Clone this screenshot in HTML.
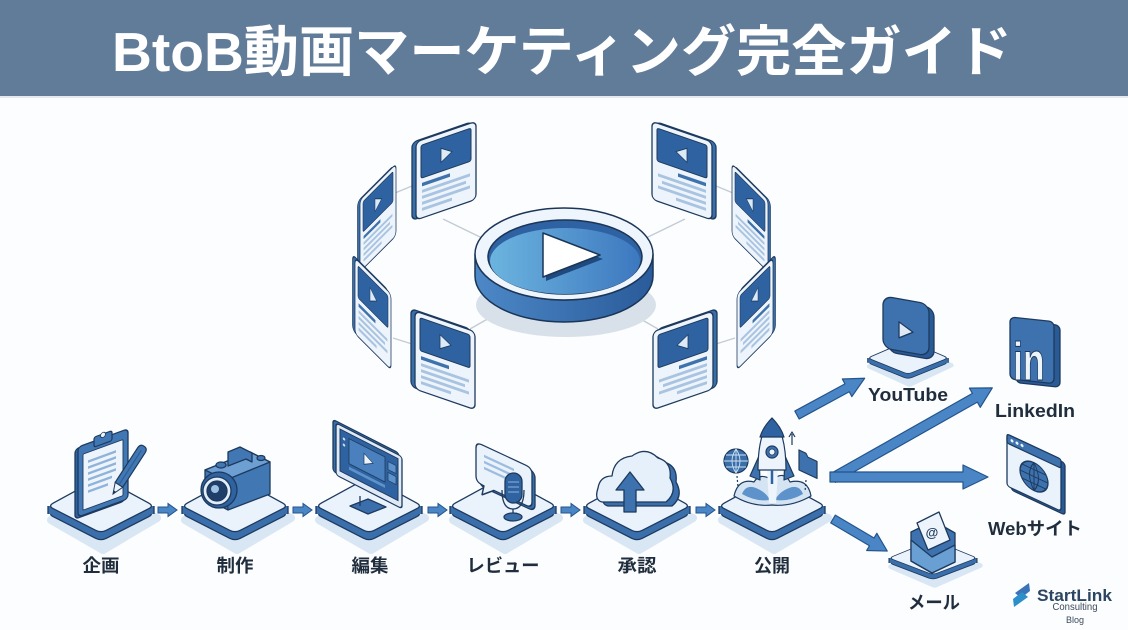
<!DOCTYPE html>
<html><head><meta charset="utf-8"><style>
html,body{margin:0;padding:0;background:#fcfdfe;}
svg{display:block;}
text{font-family:"Liberation Sans","Noto Sans CJK JP",sans-serif;}
</style></head><body>
<svg width="1128" height="630" viewBox="0 0 1128 630" xmlns="http://www.w3.org/2000/svg">
<defs>
<linearGradient id="gIn" x1="0" x2="1" y1="0" y2="0"><stop offset="0" stop-color="#6cb4df"/><stop offset="1" stop-color="#3d78bf"/></linearGradient>
<linearGradient id="gSide" x1="0" x2="1" y1="0" y2="0"><stop offset="0" stop-color="#4d88c7"/><stop offset="1" stop-color="#2a5b9a"/></linearGradient>
<g id="card">
 <rect x="-4" y="-1" width="60" height="78" rx="5" fill="#3a6ea9" stroke="#1d3a5e" stroke-width="1.3"/>
 <rect x="0" y="0" width="60" height="78" rx="5" fill="#eef4fb" stroke="#1d3a5e" stroke-width="1.3"/>
 <rect x="5" y="5" width="50" height="33" rx="2" fill="#2f62a0" stroke="#1d3a5e"/>
 <path d="M25,15 L25,29 L36,22 Z" fill="#dce9f6" stroke="#1d3a5e" stroke-width="0.8"/>
 <rect x="6" y="43" width="28" height="3.5" fill="#3e72ad"/>
 <rect x="6" y="50" width="48" height="3" fill="#a9c4e0"/>
 <rect x="6" y="56" width="44" height="3" fill="#a9c4e0"/>
 <rect x="6" y="62" width="48" height="3" fill="#a9c4e0"/>
 <rect x="6" y="68" width="30" height="3" fill="#a9c4e0"/>
</g>
<g id="leftside">
 <path d="M395,193 L412,186 M443,219 L482,238 M393,338 L412,344 M470,329 L498,313" stroke="#c3cbd4" stroke-width="1.4" fill="none"/>
 <use href="#card" transform="translate(360,200) skewY(-45) scale(0.6,0.92)"/>
 <use href="#card" transform="translate(355,258) skewY(45) scale(0.6,0.97)"/>
 <use href="#card" transform="translate(416,142) skewY(-19)"/>
 <use href="#card" transform="translate(415,311) skewY(19)"/>
</g>
<path id="dia" d="M-47.7,-2.9 L-5.3,-26.1 Q0,-29 5.3,-26.1 L47.7,-2.9 Q53,0 47.7,2.7 L5.3,24.3 Q0,27 -5.3,24.3 L-47.7,2.7 Q-53,0 -47.7,-2.9 Z"/>
<g id="plat">
 <path d="M-50,14 L0,-14 L56,12 L2,44 Z" fill="#d9e6f3" stroke="#d9e6f3" stroke-width="8" stroke-linejoin="round"/>
 <use href="#dia" transform="translate(0,8)" fill="#3b6fab" stroke="#1d3a5e" stroke-width="1.3"/>
 <rect x="-52.6" y="0" width="105.2" height="8" fill="#3b6fab"/>
 <path d="M-53,0 L-53,8 M53,0 L53,8" stroke="#1d3a5e" stroke-width="1.3"/>
 <use href="#dia" fill="#eaf2fb" stroke="#1d3a5e" stroke-width="1.3"/>
</g>
<path id="sarrow" d="M0,-3 L10,-3 L10,-6.5 L19,0 L10,6.5 L10,3 L0,3 Z" fill="#4a86c6" stroke="#24548c" stroke-width="1"/>
</defs>

<!-- title -->
<rect x="0" y="0" width="1128" height="96" fill="#617c99"/>
<rect x="0" y="96" width="1128" height="2" fill="#e3e9ef"/>
<text x="562" y="71" text-anchor="middle" font-size="55" font-weight="700" fill="#ffffff" textLength="900" lengthAdjust="spacingAndGlyphs">BtoB動画マーケティング完全ガイド</text>

<!-- cards & connectors -->
<use href="#leftside"/>
<g transform="translate(1128,0) scale(-1,1)"><use href="#leftside"/></g>

<!-- disc -->
<ellipse cx="566" cy="305" rx="90" ry="32" fill="#d8e1ea"/>
<path d="M475,254 L475,276 A89,46 0 0 0 653,276 L653,254 A89,46 0 0 1 475,254 Z" fill="url(#gSide)" stroke="#1b3557" stroke-width="1.5"/>
<ellipse cx="564" cy="254" rx="89" ry="46" fill="#eef5fc" stroke="#1b3557" stroke-width="1.5"/>
<ellipse cx="565" cy="257" rx="77" ry="37" fill="#2e62a3" stroke="#1b3557" stroke-width="1.5"/>
<ellipse cx="565" cy="261" rx="75" ry="33" fill="url(#gIn)"/>
<path d="M546,237 L546,281 L603,259 Z" fill="#1f4a80"/>
<path d="M543,233 L543,277 L600,255 Z" fill="#ffffff" stroke="#1b3557" stroke-width="1.5" stroke-linejoin="round"/>

<!-- platforms -->
<use href="#plat" transform="translate(101,506)"/>
<use href="#plat" transform="translate(235,506)"/>
<use href="#plat" transform="translate(369,506)"/>
<use href="#plat" transform="translate(503,506)"/>
<use href="#plat" transform="translate(637,506)"/>
<use href="#plat" transform="translate(772,506)"/>

<!-- clipboard -->
<g transform="translate(78,447) skewY(-20)">
 <rect x="-3" y="1" width="50" height="70" rx="4" fill="#2f62a0" stroke="#1d3a5e" stroke-width="1.3"/>
 <rect x="0" y="0" width="50" height="70" rx="4" fill="#4177b3" stroke="#1d3a5e" stroke-width="1.3"/>
 <rect x="5" y="9" width="40" height="56" rx="1" fill="#eef4fb" stroke="#1d3a5e" stroke-width="0.9"/>
 <rect x="16" y="-4" width="18" height="10" rx="2" fill="#4177b3" stroke="#1d3a5e" stroke-width="1.2"/>
 <circle cx="25" cy="-3" r="2.5" fill="#eef4fb" stroke="#1d3a5e" stroke-width="0.8"/>
 <g fill="#8fb3da"><rect x="10" y="17" width="28" height="2.5"/><rect x="10" y="23" width="28" height="2.5"/><rect x="10" y="29" width="28" height="2.5"/><rect x="10" y="35" width="28" height="2.5"/><rect x="10" y="41" width="24" height="2.5"/><rect x="10" y="47" width="20" height="2.5"/></g>
</g>
<g transform="translate(113,494) rotate(-57)">
 <path d="M0,0 L11,-4.5 L11,4.5 Z" fill="#eef4fb" stroke="#1d3a5e" stroke-width="1"/>
 <path d="M11,-4.5 L52,-4.5 Q57,-4.5 57,0 Q57,4.5 52,4.5 L11,4.5 Z" fill="#4177b3" stroke="#1d3a5e" stroke-width="1.2"/>
 <line x1="11" y1="0" x2="52" y2="0" stroke="#2a5a95" stroke-width="1"/>
 <path d="M0,0 L3.5,-1.5 L3.5,1.5Z" fill="#1d3a5e"/>
</g>

<!-- camera -->
<g stroke="#1d3a5e" stroke-width="1.3" stroke-linejoin="round">
 <path d="M205,470 L250,452 L270,462 L270,494 L228,510 L205,498 Z" fill="#4177b3"/>
 <path d="M205,470 L250,452 L270,462 L226,480 Z" fill="#6e9fd2"/>
 <path d="M226,480 L228,510" fill="none"/>
 <path d="M228,466 L246,459 L252,462 L252,453 L240,447 L228,452 Z" fill="#4177b3"/>
 <ellipse cx="221" cy="465" rx="5" ry="3" fill="#4177b3"/>
 <ellipse cx="261" cy="458" rx="4" ry="2.5" fill="#4177b3"/>
 <circle cx="219" cy="490" r="18" fill="#2f62a0"/>
 <circle cx="217" cy="491" r="14" fill="#e2edf8"/>
 <circle cx="217" cy="491" r="10" fill="#1f3f6a"/>
 <circle cx="215" cy="489" r="4" fill="#9fc1e4" stroke="none"/>
</g>

<!-- monitor -->
<path d="M360,496 L360,506 M350,506 L368,499 L386,507 L368,514 Z" fill="#3b6fab" stroke="#1d3a5e" stroke-width="1.3" stroke-linejoin="round"/>
<g transform="translate(336,423) skewY(27)" stroke="#1d3a5e" stroke-width="1.3">
 <rect x="-3" y="-2" width="66" height="52" rx="3" fill="#3a6ea9"/>
 <rect x="0" y="0" width="66" height="52" rx="3" fill="#dfeaf6"/>
 <rect x="4" y="4" width="58" height="42" fill="#2f62a0" stroke-width="1"/>
 <rect x="13" y="9" width="36" height="25" fill="#4a80bd" stroke-width="0.8"/>
 <path d="M28,16 L28,27 L37,21.5 Z" fill="#eef4fb" stroke-width="0.7"/>
 <rect x="52" y="12" width="8" height="8" fill="#5d92cb" stroke-width="0.7"/>
 <rect x="52" y="23" width="8" height="8" fill="#5d92cb" stroke-width="0.7"/>
 <rect x="13" y="37" width="36" height="3" fill="#5d92cb" stroke="none"/>
 <circle cx="8" cy="12" r="1.3" fill="#cfe1f3" stroke="none"/>
 <circle cx="8" cy="18" r="1.3" fill="#cfe1f3" stroke="none"/>
</g>

<!-- speech bubble + mic -->
<g transform="translate(476,442) skewY(25)" stroke="#1d3a5e" stroke-width="1.3" stroke-linejoin="round">
 <rect x="3" y="2" width="56" height="40" rx="6" fill="#3a6ea9"/>
 <path d="M6,0 L50,0 Q56,0 56,6 L56,34 Q56,40 50,40 L18,40 L6,50 L8,40 L6,40 Q0,40 0,34 L0,6 Q0,0 6,0 Z" fill="#eaf2fb"/>
 <g fill="#9dbde0" stroke="none"><rect x="8" y="9" width="30" height="2.5"/><rect x="8" y="15" width="30" height="2.5"/><rect x="8" y="21" width="24" height="2.5"/></g>
</g>
<g stroke="#1d3a5e" stroke-width="1.3">
 <path d="M502,490 Q502,509 513,509 Q524,509 524,490" fill="none"/>
 <line x1="513" y1="509" x2="513" y2="515"/>
 <ellipse cx="513" cy="517" rx="9" ry="4" fill="#3a6ea9"/>
 <rect x="505" y="473" width="17" height="30" rx="8.5" fill="#2f62a0"/>
 <path d="M508,482 L519,482 M508,487 L519,487 M508,492 L519,492" stroke="#8fb3da" stroke-width="1"/>
</g>

<!-- cloud upload -->
<g stroke="#1d3a5e" stroke-width="1.3" stroke-linejoin="round">
 <path transform="translate(6,4)" d="M602,502 Q594,500 598,488 Q600,476 612,476 Q614,458 632,456 Q646,446 658,458 Q672,462 670,478 Q678,492 666,502 Z" fill="#3b6fab"/>
 <path d="M602,502 Q594,500 598,488 Q600,476 612,476 Q614,458 632,456 Q646,446 658,458 Q672,462 670,478 Q678,492 666,502 Z" fill="#e6f0fa"/>
 <path d="M624,512 L624,490 L616,490 L630,472 L644,490 L636,490 L636,512 Z" fill="#3d72ae"/>
</g>

<!-- rocket -->
<g stroke="#1d3a5e" stroke-width="1.2" stroke-linejoin="round">
 <path d="M734,496 Q738,478 754,482 Q760,472 772,480 Q784,470 790,482 Q808,478 811,496 Q792,507 772,505 Q752,507 734,496 Z" fill="#d5e4f3"/>
 <path d="M742,494 Q746,484 756,488 Q766,492 770,500 Q756,502 742,494 Z" fill="#5d92cb" stroke="none"/>
 <path d="M803,494 Q799,484 789,488 Q779,492 775,500 Q789,502 803,494 Z" fill="#5d92cb" stroke="none"/>
 <path d="M767,470 L778,470 L776,503 L769,503 Z" fill="#eef4fb" stroke="none"/>
 <path d="M759,456 L750,476 L760,480 Z" fill="#3d72ae"/>
 <path d="M785,456 L794,476 L784,480 Z" fill="#3d72ae"/>
 <path d="M772,418 Q786,432 786,470 L758,470 Q758,432 772,418 Z" fill="#eef4fb"/>
 <path d="M772,418 Q781,427 784,437 L760,437 Q763,427 772,418 Z" fill="#2f62a0"/>
 <line x1="772" y1="470" x2="772" y2="484" stroke-width="2.5" stroke="#2f62a0"/>
 <circle cx="772" cy="452" r="6" fill="#3d72ae"/>
 <circle cx="772" cy="452" r="3" fill="#eef4fb" stroke-width="0.8"/>
 <circle cx="736" cy="461" r="12" fill="#3a6ea9"/>
 <path d="M724,461 L748,461 M736,449 L736,473 M726,455 L746,455 M726,467 L746,467 M736,449 Q728,461 736,473 M736,449 Q744,461 736,473" fill="none" stroke="#cfe1f3" stroke-width="0.9"/>
 <g transform="translate(799,448) skewY(25)"><path d="M0,2 L7,2 L9,5 L18,5 L18,22 L0,22 Z" fill="#3d72ae"/></g>
 <path d="M737,476 L738,487 M806,480 L805,492" stroke-dasharray="2 2" fill="none"/>
 <path d="M792,445 L792,434 M789,437 L792,432 L795,437" fill="none"/>
</g>

<!-- small flow arrows -->
<use href="#sarrow" transform="translate(158,510)"/>
<use href="#sarrow" transform="translate(293,510)"/>
<use href="#sarrow" transform="translate(428,510)"/>
<use href="#sarrow" transform="translate(561,510)"/>
<use href="#sarrow" transform="translate(696,510)"/>

<!-- big arrows -->
<g fill="#4a86c6" stroke="#24548c" stroke-width="1.2" stroke-linejoin="round">
 <path transform="translate(797,415) rotate(-28.5)" d="M0,-4.5 L57,-4.5 L57,-10 L77,0 L57,10 L57,4.5 L0,4.5 Z"/>
 <path transform="translate(833,478) rotate(-29.5)" d="M0,-5 L163,-5 L163,-11 L183,0 L163,11 L163,5 L0,5 Z"/>
 <path transform="translate(830,477)" d="M0,-5 L133,-5 L133,-12 L158,0 L133,12 L133,5 L0,5 Z"/>
 <path transform="translate(833,519) rotate(30.6)" d="M0,-4.5 L45,-4.5 L45,-10 L63,0 L45,10 L45,4.5 L0,4.5 Z"/>
</g>

<!-- YouTube -->
<use href="#plat" transform="translate(908,358) scale(0.76,0.6)"/>
<g transform="translate(883,296) skewY(10)" stroke="#1d3a5e" stroke-width="1.3" stroke-linejoin="round">
 <rect x="5" y="3" width="46" height="52" rx="9" fill="#2a5a95"/>
 <rect x="0" y="0" width="46" height="52" rx="9" fill="#3d72ae"/>
 <path d="M16,23 L16,39 L30,31 Z" fill="#dfeaf6"/>
</g>

<!-- LinkedIn -->
<g transform="translate(1010,317) skewY(6)" stroke="#1d3a5e" stroke-width="1.3">
 <rect x="6" y="3" width="44" height="62" rx="5" fill="#2a5a95"/>
 <rect x="0" y="0" width="44" height="62" rx="5" fill="#3d72ae"/>
</g>
<text transform="translate(1013,380) scale(0.85,1.28)" font-size="42" font-weight="700" fill="#eef4fb" stroke="#1d3a5e" stroke-width="0.8">in</text>

<!-- Web -->
<g transform="translate(1007,434) skewY(25)" stroke="#1d3a5e" stroke-width="1.3">
 <rect x="4" y="2" width="54" height="52" rx="3" fill="#2a5a95"/>
 <rect x="0" y="0" width="54" height="52" rx="3" fill="#eaf2fb"/>
 <rect x="0" y="0" width="54" height="9" rx="2" fill="#3d72ae"/>
 <circle cx="5" cy="4.5" r="1.5" fill="#eef4fb" stroke="none"/>
 <circle cx="10" cy="4.5" r="1.5" fill="#eef4fb" stroke="none"/>
 <circle cx="15" cy="4.5" r="1.5" fill="#eef4fb" stroke="none"/>
 <circle cx="27" cy="30" r="14" fill="#3d72ae"/>
 <path d="M13,30 L41,30 M27,16 L27,44 M15,23 L39,23 M15,37 L39,37 M27,16 Q18,30 27,44 M27,16 Q36,30 27,44" fill="none" stroke="#1d3a5e" stroke-width="1"/>
</g>

<!-- Mail -->
<use href="#plat" transform="translate(933,558) scale(0.83,0.62)"/>
<g stroke="#1d3a5e" stroke-width="1.3" stroke-linejoin="round">
 <path d="M911,532 L934,521 L955,533 L955,562 L932,573 L911,561 Z" fill="#3d72ae"/>
 <path d="M917,523 L939,512 L950,540 L928,550 Z" fill="#eef4fb"/>
 <path d="M911,540 L932,557 L955,545 L955,562 L932,573 L911,561 Z" fill="#6a9fd4"/>
</g>
<text x="932" y="537" font-size="13" font-weight="700" fill="#1d3a5e" text-anchor="middle">@</text>

<!-- labels -->
<g fill="#1f2d3d" font-size="18" font-weight="700" text-anchor="middle">
 <text x="101" y="572" textLength="37" lengthAdjust="spacingAndGlyphs">企画</text>
 <text x="235" y="572" textLength="37" lengthAdjust="spacingAndGlyphs">制作</text>
 <text x="370" y="572" textLength="37" lengthAdjust="spacingAndGlyphs">編集</text>
 <text x="503" y="572" textLength="73" lengthAdjust="spacingAndGlyphs">レビュー</text>
 <text x="637" y="572" textLength="39" lengthAdjust="spacingAndGlyphs">承認</text>
 <text x="772" y="572" textLength="36" lengthAdjust="spacingAndGlyphs">公開</text>
 <text x="908" y="401" textLength="80" lengthAdjust="spacingAndGlyphs">YouTube</text>
 <text x="1035" y="417" textLength="80" lengthAdjust="spacingAndGlyphs">LinkedIn</text>
 <text x="1035" y="535" textLength="94" lengthAdjust="spacingAndGlyphs">Webサイト</text>
 <text x="934" y="609" textLength="52" lengthAdjust="spacingAndGlyphs">メール</text>
</g>

<!-- logo -->
<path d="M1029,583 L1015,593 L1021,598 L1030,591 Z" fill="#3a73b8"/>
<path d="M1014,607 L1028,597 L1022,592 L1013,599 Z" fill="#2d8fc9"/>
<text x="1037" y="601" font-size="17" font-weight="700" fill="#2c4661" textLength="75" lengthAdjust="spacingAndGlyphs">StartLink</text>
<text x="1075" y="610" font-size="10" font-weight="400" fill="#3c4a5a" text-anchor="middle" textLength="45" lengthAdjust="spacingAndGlyphs">Consulting</text>
<text x="1075" y="623" font-size="9" font-weight="400" fill="#3c4a5a" text-anchor="middle">Blog</text>
</svg>
</body></html>
